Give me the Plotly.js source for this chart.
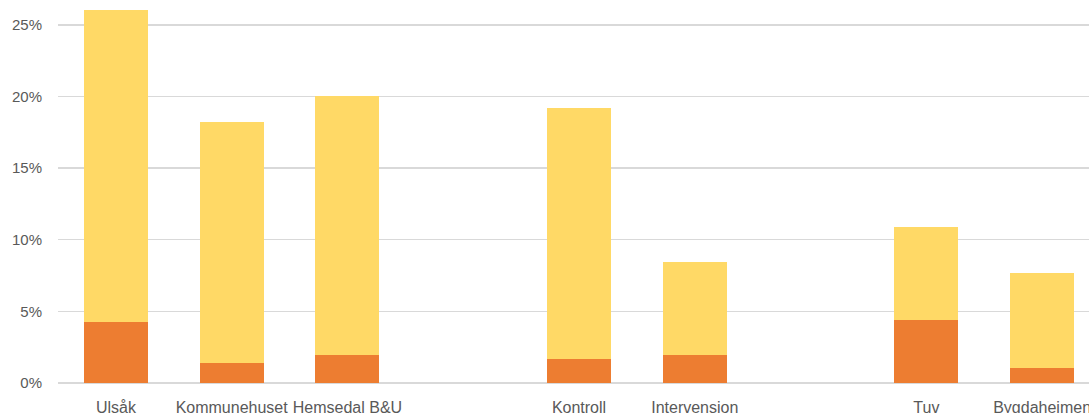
<!DOCTYPE html>
<html>
<head>
<meta charset="utf-8">
<script src="https://cdn.plot.ly/plotly-3.0.1.min.js"></script>
<style>
  html, body { margin: 0; padding: 0; overflow: hidden; background: #fff; }
  #chart { width: 1100px; height: 413px; }
</style>
</head>
<body>
<div id="chart"></div>
<script>
// Sites along the x axis; the blank entries are spacer slots between groups.
const categories = ["Ulsåk", "Kommunehuset", "Hemsedal B&U", " ", "Kontroll", "Intervensjon", "  ", "Tuv", "Bygdaheimen"];

// Lower (orange) segment, percent
const lowerShare = [4.28, 1.38, 1.92, null, 1.70, 1.92, null, 4.38, 1.06];
// Upper (yellow) segment stacked on top, percent
const upperShare = [21.77, 16.82, 18.08, null, 17.48, 6.53, null, 6.52, 6.59];

const yTicks = [0, 5, 10, 15, 20, 25];
const yTickText = ["0%", "5%", "10%", "15%", "20%", "25%"];

const traces = [
  {
    type: "bar",
    x: categories,
    y: lowerShare,
    marker: { color: "#ED7D31" },
    hoverinfo: "x+y"
  },
  {
    type: "bar",
    x: categories,
    y: upperShare,
    marker: { color: "#FFD966" },
    hoverinfo: "x+y"
  }
];

const layout = {
  width: 1100,
  height: 413,
  margin: { l: 58, r: 0, t: 0, b: 30, pad: 0 },
  paper_bgcolor: "#ffffff",
  plot_bgcolor: "#ffffff",
  barmode: "stack",
  bargap: 0.447,
  showlegend: false,
  font: { family: "Liberation Sans, Arial, sans-serif", color: "#595959" },
  xaxis: {
    type: "category",
    categoryorder: "array",
    categoryarray: categories,
    showgrid: false,
    showline: false,
    zeroline: false,
    ticks: "",
    ticklabelstandoff: 13,
    tickfont: { size: 16, color: "#595959" },
    fixedrange: true
  },
  yaxis: {
    range: [0, 26.73],
    tickvals: yTicks,
    ticktext: yTickText,
    showgrid: true,
    gridcolor: "#d9d9d9",
    gridwidth: 1.5,
    zeroline: true,
    zerolinecolor: "#d9d9d9",
    zerolinewidth: 1.5,
    showline: false,
    ticks: "",
    ticklabelstandoff: 15,
    tickfont: { size: 15, color: "#595959" },
    fixedrange: true
  }
};

Plotly.newPlot("chart", traces, layout, { displayModeBar: false, staticPlot: true });
</script>
</body>
</html>
